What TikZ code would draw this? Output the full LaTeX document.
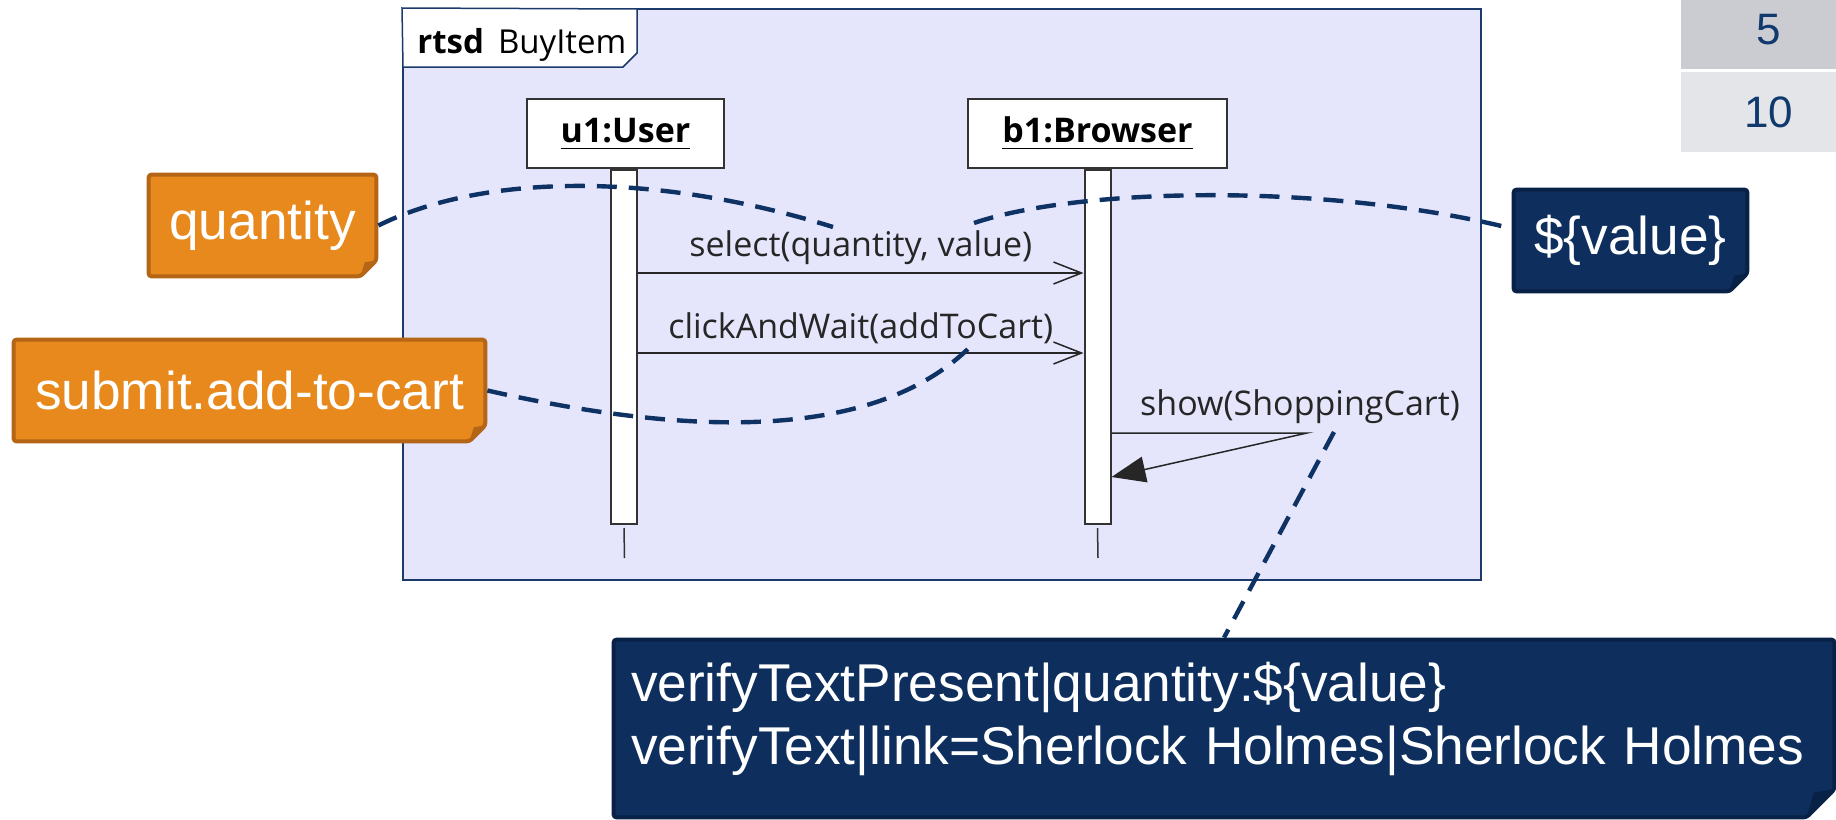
\documentclass[tikz,border=0pt]{standalone}
\usepackage{fontspec}
\setmainfont{Liberation Sans}
\newfontfamily\diagfont{Open Sans}
\usetikzlibrary{arrows.meta,calc}
\definecolor{framefill}{RGB}{229,229,252}
\definecolor{frameline}{RGB}{27,58,107}
\definecolor{orfill}{RGB}{232,137,29}
\definecolor{orline}{RGB}{180,101,22}
\definecolor{nvfill}{RGB}{14,47,94}
\definecolor{nvline}{RGB}{8,33,70}
\definecolor{dashcol}{RGB}{14,50,100}
\definecolor{pgA}{RGB}{203,204,210}
\definecolor{pgB}{RGB}{228,229,233}
\definecolor{pgtext}{RGB}{16,58,110}
\pgfdeclarelayer{back}
\pgfdeclarelayer{notes}
\pgfsetlayers{back,notes,main}
\newcommand\drawnote[4]{%
  \begin{pgfonlayer}{notes}
    \draw[fill=#2, draw=#3, line width=2pt, rounded corners=1.5pt]
      ([shift={(1pt,-1pt)}]#1.north west) -- ([shift={(-1pt,-1pt)}]#1.north east)
      -- ([shift={(-1pt,#4)}]#1.south east) -- ([shift={(-#4,1pt)}]#1.south east)
      -- ([shift={(1pt,1pt)}]#1.south west) -- cycle;
    \fill[#3] ([shift={(-1pt,#4)}]#1.south east) -- ([shift={(-#4,1pt)}]#1.south east)
      -- ([shift={(-#4+0.25*#4,#4-0.1*#4)}]#1.south east) -- cycle;
  \end{pgfonlayer}}
\begin{document}
\begin{tikzpicture}[x=0.5pt,y=-0.5pt,
  notelbl/.style={inner sep=0pt, text=white, font=\fontsize{26.6}{31.5}\selectfont, minimum height=52.5pt},
  msg/.style={line width=0.75pt, draw=black!85},
  conn/.style={draw=dashcol, line width=2.2pt, dash pattern=on 10pt off 6pt},
  headbox/.style={draw=black!80, fill=white, line width=1pt, minimum height=34.5pt, inner sep=0pt,
    font=\diagfont\bfseries\fontsize{17}{20}\selectfont},
  actbar/.style={draw=black!80, fill=white, line width=1pt, minimum width=13pt, minimum height=177pt, inner sep=0pt},
  lifeline/.style={line width=0.75pt, draw=black!80},
  lbl/.style={font=\diagfont\fontsize{17}{20}\selectfont, inner sep=0pt, text=black!85},
  pgbox/.style={inner sep=0pt, minimum width=87.5pt, text=pgtext, font=\fontsize{22}{26}\selectfont}
]
\useasboundingbox (0,0) rectangle (1836,819);
\clip (0,0) rectangle (1836,819);

% frame
\begin{pgfonlayer}{back}
  \node[draw=frameline, fill=framefill, line width=1pt, minimum width=539pt, minimum height=285.5pt, inner sep=0pt] (frame) at (942,294.5) {};
  \draw[draw=frameline, fill=white, line width=0.75pt] (frame.north west) -- (637,9) -- (637,53) -- (623,67) -- (403,67) -- cycle;
\end{pgfonlayer}
\node[lbl, anchor=base west, text=black, font=\diagfont\fontsize{16.5}{20}\selectfont] (title) at (417,53) {\textbf{rtsd}\hspace{7pt}BuyItem};

% page number boxes
\node[pgbox, fill=pgA, minimum height=39.5pt] (p5) at (1768.5,29.5) {5};
\node[pgbox, fill=pgB, minimum height=40pt] (p10) at (1768.5,112) {10};

% lifelines
\node[headbox, minimum width=98.5pt] (u1) at (625.5,133.5) {\underline{u1:User\rule[-1.5pt]{0pt}{1pt}}};
\node[headbox, minimum width=129.5pt] (b1) at (1097.5,133.5) {\underline{b1:Browser\rule[-1.5pt]{0pt}{1pt}}};
\node[actbar] (u1bar) at (624,347) {};
\node[actbar] (b1bar) at (1097.5,347) {};
\coordinate (u1end) at (624.5,558);
\coordinate (b1end) at (1098,558);
\draw[lifeline] ([yshift=-1.5pt]u1bar.south) -- (u1end);
\draw[lifeline] ([yshift=-1.5pt]b1bar.south) -- (b1end);

% messages
\coordinate (y1) at (0,273);
\coordinate (y2) at (0,353);
\coordinate (y3) at (0,433);
\coordinate (y4) at (0,477);
\coordinate (sc) at (1307,433);
\draw[msg,-{Straight Barb[length=14pt,width=11pt]}] (u1bar.east |- y1) -- node[lbl, above=4pt] (m1) {select(quantity, value)} (b1bar.west |- y1);
\draw[msg,-{Straight Barb[length=14pt,width=11pt]}] (u1bar.east |- y2) -- node[lbl, above=4pt] (m2) {clickAndWait(addToCart)} (b1bar.west |- y2);
\draw[msg,-{Triangle[length=17pt,width=13pt]}] (b1bar.east |- y3) -- (sc) -- (b1bar.east |- y4);
\node[lbl, anchor=base] (m3) at (1300,415) {show(ShoppingCart)};

% notes
\node[notelbl, minimum width=115.5pt] (q) at (262.5,225.5) {quantity};
\drawnote{q}{orfill}{orline}{9pt}
\node[notelbl, minimum width=237.5pt] (sub) at (249.5,390.5) {submit.add-to-cart};
\drawnote{sub}{orfill}{orline}{9pt}
\node[notelbl, minimum width=118.5pt] (val) at (1630.5,240.5) {\$\{value\}};
\drawnote{val}{nvfill}{nvline}{10pt}
\node[notelbl, minimum height=90.5pt, text width=593pt, align=left, inner xsep=9.5pt] (big) at (1224,728.5)
  {verifyTextPresent|quantity:\$\{value\}\\verifyText|link=Sherlock Holmes|Sherlock Holmes\rule[-15.5pt]{0pt}{0pt}};
\drawnote{big}{nvfill}{nvline}{15pt}

% connectors
\coordinate (c1end) at (833,227);
\coordinate (c2start) at (974,223);
\coordinate (c3end) at (970,347);
\coordinate (c4start) at (1334,432);
\draw[conn] (q.east) .. controls (480,175) and (650,170) .. (c1end);
\draw[conn] (c2start) .. controls (1080,187) and (1330,183) .. ([yshift=6pt]val.west);
\draw[conn] (sub.east) .. controls (640,425) and (860,455) .. (c3end);
\draw[conn] (c4start) -- (big.north);
\end{tikzpicture}
\end{document}
